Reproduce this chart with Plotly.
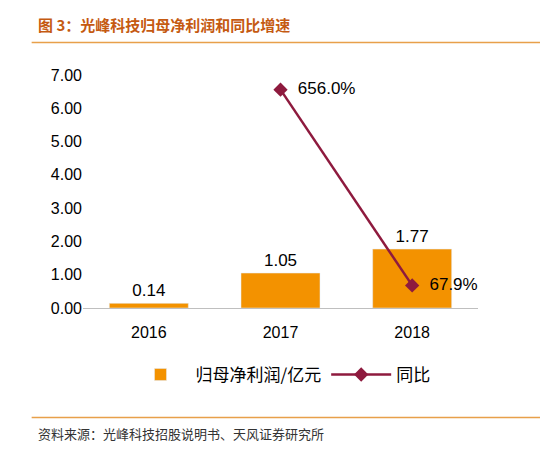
import plotly.graph_objects as go

years = ["2016", "2017", "2018"]
profit = [0.14, 1.05, 1.77]
yoy_years = ["2017", "2018"]
yoy_pct = [656.0, 67.9]

fig = go.Figure()
fig.add_bar(x=years, y=profit, name="归母净利润/亿元", marker_color="#F39200", width=0.6,
            text=[f"{v:.2f}" for v in profit], textposition="outside",
            textfont=dict(size=17, color="#000"), cliponaxis=False)
fig.add_scatter(x=yoy_years, y=[v/100 for v in yoy_pct], name="同比", mode="lines+markers+text",
                line=dict(color="#8E1A3E", width=2.5), marker=dict(symbol="diamond", size=11, color="#8E1A3E"),
                text=[f"  {v:.1f}%" for v in yoy_pct], textposition="middle right",
                textfont=dict(size=17, color="#000"), cliponaxis=False)
fig.update_layout(
    width=548, height=451, paper_bgcolor="white", plot_bgcolor="white",
    font=dict(family="Liberation Sans, Noto Sans CJK SC", color="#000"),
    margin=dict(l=75, r=78, t=67, b=151),
    bargap=0.4, showlegend=True,
    legend=dict(orientation="h", x=0.5, xanchor="center", y=-0.21, yanchor="top",
                font=dict(size=17, family="Noto Sans CJK SC"), itemwidth=60),
    xaxis=dict(showline=True, linecolor="#BFBFBF", tickfont=dict(size=16), ticks="",
               ticklabelstandoff=10),
    yaxis=dict(range=[0, 7], dtick=1, tickformat=".2f", tickfont=dict(size=16),
               showgrid=False, showline=False, zeroline=False),
    shapes=[
        dict(type="line", xref="paper", yref="paper", x0=-0.13, x1=1.17, y0=1.14, y1=1.14,
             line=dict(color="#E8A04A", width=1.5)),
        dict(type="line", xref="paper", yref="paper", x0=-0.13, x1=1.17, y0=-0.47, y1=-0.47,
             line=dict(color="#E8A04A", width=1.5)),
    ],
    annotations=[
        dict(text="<b>图 3：光峰科技归母净利润和同比增速</b>", xref="paper", yref="paper",
             x=-0.12, y=1.165, xanchor="left", yanchor="bottom", showarrow=False,
             font=dict(size=15, color="#C55A11", family="Noto Sans CJK SC")),
        dict(text="资料来源：光峰科技招股说明书、天风证券研究所", xref="paper", yref="paper",
             x=-0.12, y=-0.49, xanchor="left", yanchor="top", showarrow=False,
             font=dict(size=13, color="#333", family="Noto Sans CJK SC")),
    ],
)
fig.write_html("out.html")
